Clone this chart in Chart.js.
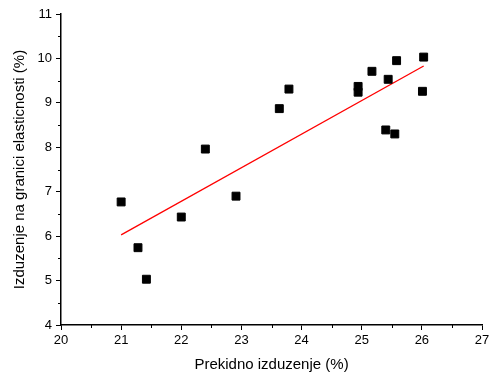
<!DOCTYPE html>
<html>
<head>
<meta charset="utf-8">
<script src="https://cdn.jsdelivr.net/npm/chart.js@4/dist/chart.umd.min.js"></script>
<style>
  html, body { margin: 0; padding: 0; background: #fff; }
  #wrap { width: 493px; height: 378px; }
</style>
</head>
<body>
<div id="wrap"><canvas id="chart"></canvas></div>
<script>
// measured points: prekidno izduzenje (x) vs izduzenje na granici elasticnosti (y)
const prekidno = [21.0, 21.28, 21.42, 22.0, 22.4, 22.91, 23.63, 23.79, 24.94, 24.94, 25.17, 25.4, 25.44, 25.55, 25.58, 26.01, 26.03];
const granica  = [6.77, 5.74, 5.03, 6.43, 7.96, 6.90, 8.87, 9.31, 9.37, 9.24, 9.71, 8.39, 9.53, 8.30, 9.95, 9.26, 10.03];

// linear fit line, end points
const fitX = [21.0, 26.03];
const fitY = [6.03, 9.83];

const xMinor = [20.5, 21.5, 22.5, 23.5, 24.5, 25.5, 26.5];
const yMinor = [4.5, 5.5, 6.5, 7.5, 8.5, 9.5, 10.5];

const font = "'Liberation Sans', Arial, sans-serif";

// Chart.js has no minor ticks, so draw them from the scales
const minorTicks = {
    id: 'minorTicks',
    afterDraw(chart) {
        const ctx = chart.ctx;
        const xs = chart.scales.x, ys = chart.scales.y;
        ctx.save();
        ctx.strokeStyle = '#000';
        ctx.lineWidth = 1;
        xMinor.forEach(v => {
            const px = Math.round(xs.getPixelForValue(v)) + 0.5;
            ctx.beginPath();
            ctx.moveTo(px, ys.bottom);
            ctx.lineTo(px, ys.bottom + 3);
            ctx.stroke();
        });
        yMinor.forEach(v => {
            const py = Math.round(ys.getPixelForValue(v)) + 0.5;
            ctx.beginPath();
            ctx.moveTo(xs.left, py);
            ctx.lineTo(xs.left - 3, py);
            ctx.stroke();
        });
        ctx.restore();
    }
};

new Chart(document.getElementById('chart'), {
    data: {
        datasets: [{
            type: 'scatter',
            data: prekidno.map((x, i) => ({ x: x, y: granica[i] })),
            pointStyle: 'rect',
            pointRadius: 5.6,
            pointHoverRadius: 5.6,
            backgroundColor: '#000',
            borderColor: '#000',
            borderWidth: 1
        }, {
            type: 'line',
            data: fitX.map((x, i) => ({ x: x, y: fitY[i] })),
            borderColor: '#ff0000',
            borderWidth: 1.3,
            pointRadius: 0,
            fill: false
        }]
    },
    options: {
        responsive: true,
        maintainAspectRatio: false,
        animation: false,
        layout: { padding: { top: 14, right: 11, bottom: 0, left: 0 } },
        plugins: {
            legend: { display: false },
            tooltip: { enabled: false }
        },
        scales: {
            x: {
                type: 'linear',
                min: 20,
                max: 27,
                afterFit: s => { s.height = 53; },
                border: { display: true, color: '#000', width: 1.5 },
                grid: { drawOnChartArea: false, drawTicks: true, tickLength: 5, color: '#000', tickWidth: 1 },
                ticks: { stepSize: 1, color: '#000', padding: 3, font: { family: font, size: 13 } },
                title: {
                    display: true,
                    text: 'Prekidno izduzenje (%)',
                    color: '#000',
                    font: { family: font, size: 15 },
                    padding: { top: 4, bottom: 4 }
                }
            },
            y: {
                type: 'linear',
                min: 4,
                max: 11,
                afterFit: s => { s.width = 61; },
                border: { display: true, color: '#000', width: 1.5 },
                grid: { drawOnChartArea: false, drawTicks: true, tickLength: 5, color: '#000', tickWidth: 1 },
                ticks: { stepSize: 1, color: '#000', padding: 4, font: { family: font, size: 13 } },
                title: {
                    display: true,
                    text: 'Izduzenje na granici elasticnosti (%)',
                    color: '#000',
                    font: { family: font, size: 15 },
                    padding: { top: 11, bottom: 11 }
                }
            }
        }
    },
    plugins: [minorTicks]
});
</script>
</body>
</html>
